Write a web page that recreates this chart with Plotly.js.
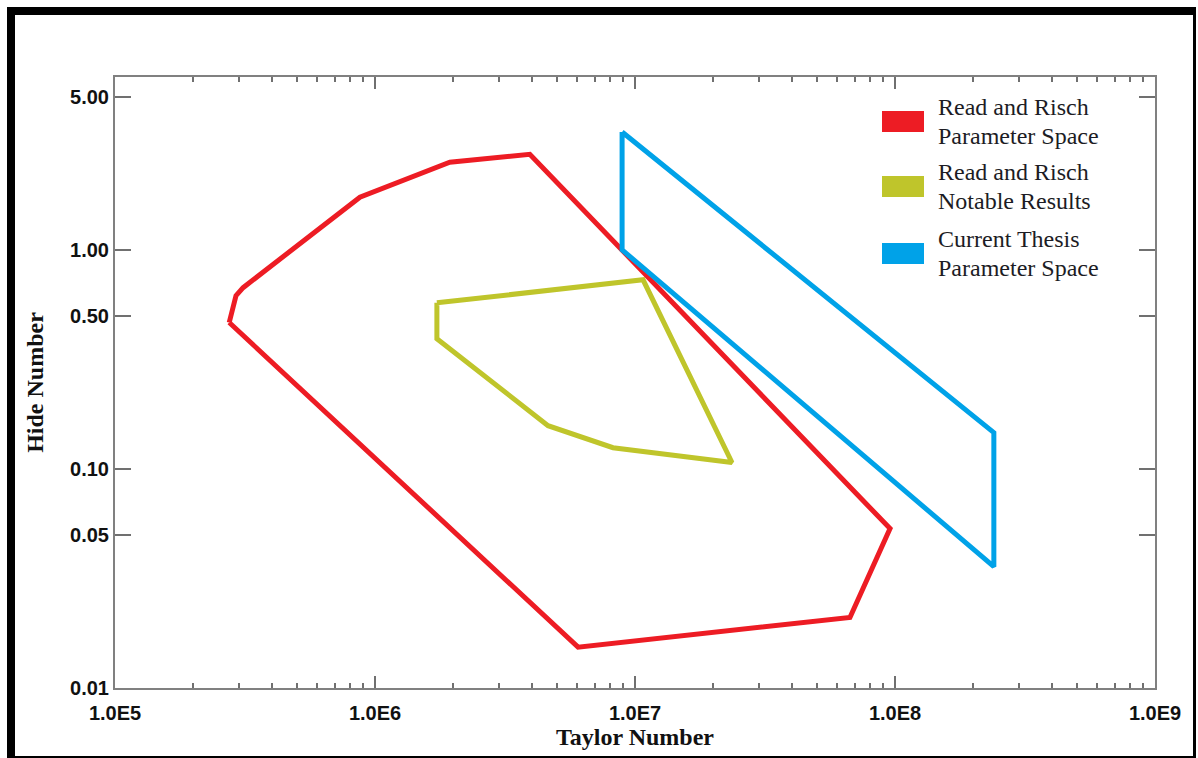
<!DOCTYPE html>
<html>
<head>
<meta charset="utf-8">
<script src="https://cdn.plot.ly/plotly-3.0.1.min.js"></script>
<style>
  html, body { margin: 0; padding: 0; background: #ffffff; }
  #chart { width: 1198px; height: 758px; }
  #frame {
    position: absolute; left: 7px; top: 7px; width: 1189px; height: 751px;
    box-sizing: border-box; border-style: solid; border-color: #000;
    border-width: 8px 3px 2px 8px; pointer-events: none;
  }
</style>
</head>
<body>
<div id="chart"></div>
<div id="frame"></div>
<script>
// Read and Risch parameter space (red outline)
const redX = [2.75e5, 2.92e5, 3.11e5, 8.75e5, 1.94e6, 3.94e6, 9.57e7, 6.71e7, 6.04e6, 2.75e5];
const redY = [0.466, 0.618, 0.672, 1.74, 2.51, 2.73, 0.0534, 0.0210, 0.01536, 0.466];
// Read and Risch notable results (yellow-green outline)
const greenX = [1.73e6, 1.73e6, 4.63e6, 8.23e6, 2.36e7, 1.074e7, 1.73e6];
const greenY = [0.573, 0.393, 0.1575, 0.125, 0.107, 0.730, 0.573];
// Current thesis parameter space (blue outline)
const blueX = [8.92e6, 8.92e6, 2.40e8, 2.40e8, 8.92e6];
const blueY = [3.45, 1.00, 0.0358, 0.1464, 3.45];

const seriesNames = [
  ["Read and Risch", "Parameter Space"],
  ["Read and Risch", "Notable Results"],
  ["Current Thesis", "Parameter Space"]
];
const seriesColors = ["#ed1c24", "#bfc52b", "#00a2e8"];

const xTickVals = [1e5, 1e6, 1e7, 1e8, 1e9];
const xTickText = ["1.0E5", "1.0E6", "1.0E7", "1.0E8", "1.0E9"];
const yTickVals = [0.01, 0.05, 0.1, 0.5, 1, 5];
const yTickText = ["0.01", "0.05", "0.10", "0.50", "1.00", "5.00"];

// minor tick positions (2..9 within each decade)
const xMinor = [];
for (let d = 5; d < 9; d++) for (let k = 2; k <= 9; k++) xMinor.push(k * Math.pow(10, d));

const traces = [
  {x: redX, y: redY, mode: "lines", line: {color: seriesColors[0], width: 5}, showlegend: false, hoverinfo: "skip"},
  {x: greenX, y: greenY, mode: "lines", line: {color: seriesColors[1], width: 5}, showlegend: false, hoverinfo: "skip"},
  {x: blueX, y: blueY, mode: "lines", line: {color: seriesColors[2], width: 5}, showlegend: false, hoverinfo: "skip"}
];

// manual legend (swatches + two-line labels)
const plotL = 115, plotR = 1155, plotT = 77, plotB = 688;
const px2x = p => (p - plotL) / (plotR - plotL);
const py2y = p => (plotB - p) / (plotB - plotT);
const legendTop = [111, 176, 243];
const shapes = [], annotations = [];
seriesNames.forEach((lines, i) => {
  const t = legendTop[i];
  shapes.push({type: "rect", xref: "paper", yref: "paper",
    x0: px2x(882), x1: px2x(924), y0: py2y(t + 21), y1: py2y(t),
    fillcolor: seriesColors[i], line: {width: 0}});
  lines.forEach((txt, j) => {
    annotations.push({xref: "paper", yref: "paper", x: px2x(936), y: py2y(t - 4 + j * 29),
      xanchor: "left", yanchor: "middle", showarrow: false, text: txt,
      font: {family: "Liberation Serif, Times New Roman, serif", size: 24, color: "#1c1c24"}});
  });
});

const tickFont = {family: "Liberation Sans, Arial, sans-serif", size: 20, color: "#111"};
const titleFont = {family: "Liberation Serif, Times New Roman, serif", size: 24, color: "#111", weight: "bold"};

const layout = {
  width: 1198, height: 758,
  margin: {l: plotL, r: 1198 - plotR, t: plotT, b: 758 - plotB},
  paper_bgcolor: "#ffffff", plot_bgcolor: "#ffffff",
  showlegend: false,
  xaxis: {
    type: "log", range: [5, 9], tickmode: "array", tickvals: xTickVals, ticktext: xTickText,
    ticks: "inside", ticklen: 12, tickwidth: 2, tickcolor: "#707070",
    minor: {tickmode: "array", tickvals: xMinor, ticks: "inside", ticklen: 5, tickwidth: 2, tickcolor: "#707070", showgrid: false},
    showline: true, linecolor: "#808080", linewidth: 2, mirror: "allticks",
    showgrid: false, zeroline: false,
    ticklabelstandoff: 6,
    tickfont: Object.assign({weight: "bold"}, tickFont),
    title: {text: "Taylor Number", font: titleFont, standoff: 4},
    automargin: false
  },
  yaxis: {
    type: "log", range: [-2, 0.789], tickmode: "array", tickvals: yTickVals, ticktext: yTickText,
    ticks: "inside", ticklen: 16, tickwidth: 2, tickcolor: "#707070",
    showline: true, linecolor: "#808080", linewidth: 2, mirror: "allticks",
    showgrid: false, zeroline: false,
    tickfont: Object.assign({weight: "bold"}, tickFont),
    title: {text: "Hide Number", font: titleFont, standoff: 20},
    automargin: false
  },
  shapes: shapes,
  annotations: annotations
};

Plotly.newPlot("chart", traces, layout, {displayModeBar: false, staticPlot: true});
</script>
</body>
</html>
